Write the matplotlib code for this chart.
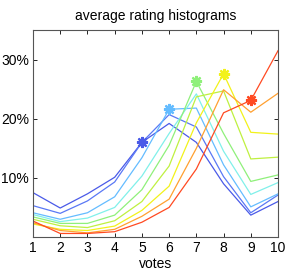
import matplotlib
matplotlib.use("Agg")
import matplotlib.pyplot as plt
from matplotlib.ticker import FuncFormatter

plt.rcParams['font.family'] = ['Liberation Sans', 'DejaVu Sans']

votes = [1, 2, 3, 4, 5, 6, 7, 8, 9, 10]

# share of votes (%) for each vote value, one line per average-rating group
h_dark_blue  = [7.5, 4.9, 7.3, 10.1, 16.0, 19.2, 16.0, 9.0, 3.7, 6.0]
h_blue       = [5.3, 4.0, 6.1, 9.3, 16.0, 20.7, 18.6, 10.2, 4.1, 7.1]
h_light_blue = [4.1, 3.0, 4.1, 6.8, 13.4, 21.6, 21.8, 12.2, 5.1, 7.3]
h_cyan       = [3.8, 2.6, 3.2, 5.0, 10.3, 17.5, 24.2, 14.5, 7.2, 9.2]
h_light_grn  = [3.4, 2.3, 2.3, 3.7, 8.0, 15.5, 26.3, 17.5, 9.4, 10.5]
h_green      = [3.0, 1.9, 1.6, 2.75, 6.0, 12.0, 23.7, 24.7, 13.2, 13.5]
h_yellow     = [2.2, 1.3, 1.1, 1.85, 4.5, 8.6, 19.3, 27.6, 17.7, 17.4]
h_orange     = [2.4, 1.1, 0.7, 1.3, 3.5, 6.4, 15.0, 24.9, 21.1, 24.3]
h_red        = [2.7, 0.6, 0.6, 0.9, 2.5, 5.0, 11.5, 21.0, 23.1, 31.5]

series = [h_dark_blue, h_blue, h_light_blue, h_cyan, h_light_grn,
          h_green, h_yellow, h_orange, h_red]
colors = ['#4a5ae8', '#5a78f5', '#64bcff', '#80f0ea', '#8ff07a',
          '#bff040', '#f2f21a', '#ffa030', '#ff4a22']

# integer average ratings get a marker at their own vote value
star_idx = [0, 2, 4, 6, 8]
star_at = [5, 6, 7, 8, 9]

fig = plt.figure(figsize=(2.91, 2.74), dpi=100)
ax = fig.add_axes([0.1134, 0.135, 0.842, 0.7555])

for vals, c in zip(series, colors):
    ax.plot(votes, [v / 100 for v in vals], color=c, lw=0.9)

for i, x in zip(star_idx, star_at):
    y = series[i][votes.index(x)] / 100
    ax.plot([x], [y], marker=(8, 2, 0), color=colors[i], ms=8, mew=1.6)

ax.set_xlim(1, 10)
ax.set_ylim(0, 0.35)
ax.set_xticks(votes)
ax.set_yticks([0.1, 0.2, 0.3])
ax.yaxis.set_major_formatter(FuncFormatter(lambda v, p: f"{v*100:.0f}%"))
ax.tick_params(direction='in', top=True, right=True, length=3,
               labelsize=10, width=0.6, pad=3)
for s in ax.spines.values():
    s.set_color('#555555')
    s.set_linewidth(0.8)

ax.set_xlabel("votes", fontsize=10, labelpad=1)
ax.set_title("average rating histograms", fontsize=10, pad=7)

fig.savefig("out.png", dpi=100)
